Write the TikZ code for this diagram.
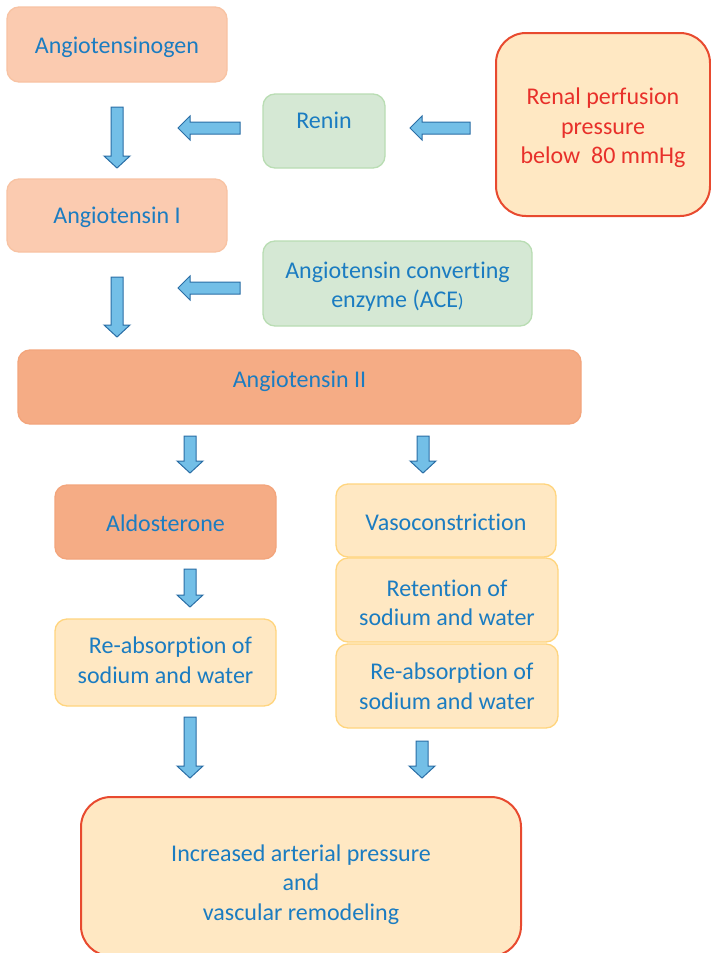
\documentclass[tikz,border=0pt]{standalone}
\usepackage{fontspec}
\setmainfont{Carlito}[Ligatures=NoCommon]
\definecolor{txtblue}{HTML}{1B7CC1}
\definecolor{txtred}{HTML}{E8302A}
\definecolor{peachLfill}{HTML}{FBCBB0}
\definecolor{peachLdraw}{HTML}{F8C3A3}
\definecolor{peachDfill}{HTML}{F5AC85}
\definecolor{peachDdraw}{HTML}{F3A57C}
\definecolor{greenfill}{HTML}{D5E8D4}
\definecolor{greendraw}{HTML}{B9DDB3}
\definecolor{yelfill}{HTML}{FFE8C3}
\definecolor{yeldraw}{HTML}{FFD57E}
\definecolor{redline}{HTML}{E84A2F}
\definecolor{arrfill}{HTML}{73BFE7}
\definecolor{arrdraw}{HTML}{2A6EA6}
\newcommand\darr[3]{% x, y tail, y tip
  \draw[barrow] ({#1-6},#2) -- ({#1+6},#2) -- ({#1+6},{#3-12}) -- ({#1+13},{#3-12})
    -- (#1,#3) -- ({#1-13},{#3-12}) -- ({#1-6},{#3-12}) -- cycle;}
\newcommand\larr[3]{% x tip, x tail, y
  \draw[barrow] (#2,{#3-6}) -- ({#1+12},{#3-6}) -- ({#1+12},{#3-12}) -- (#1,#3)
    -- ({#1+12},{#3+12}) -- ({#1+12},{#3+6}) -- (#2,{#3+6}) -- cycle;}
\begin{document}
\begin{tikzpicture}[x=1pt,y=-1pt,
  box/.style={rounded corners=12pt, line width=1.3pt, inner sep=0pt, outer sep=0pt},
  txt/.style={inner sep=0pt, align=center, text=txtblue, font=\fontsize{24}{29.5}\selectfont},
  peachL/.style={box, fill=peachLfill, draw=peachLdraw},
  peachD/.style={box, fill=peachDfill, draw=peachDdraw},
  greenbox/.style={box, fill=greenfill, draw=greendraw},
  yelbox/.style={box, fill=yelfill, draw=yeldraw},
  redbox/.style={box, fill=yelfill, draw=redline, line width=2pt, rounded corners=30pt},
  barrow/.style={fill=arrfill, draw=arrdraw, line width=1pt, line join=miter}]
\useasboundingbox (0,0) rectangle (711,953);
\clip (0,0) rectangle (711,953);
\fill[white] (0,0) rectangle (711,953);

% boxes
\node[peachL, minimum width=220, minimum height=75] (agn) at (117,44.5) {};
\node[greenbox, minimum width=122, minimum height=74] (renin) at (324,131) {};
\node[redbox, minimum width=214, minimum height=183] (renal) at (603,124.5) {};
\node[peachL, minimum width=220, minimum height=73] (ang1) at (117,215.5) {};
\node[greenbox, minimum width=269, minimum height=85] (ace) at (397.5,283.5) {};
\node[peachD, minimum width=563, minimum height=74] (ang2) at (299.5,387) {};
\node[peachD, minimum width=221, minimum height=74] (aldo) at (165.5,522) {};
\node[yelbox, minimum width=220, minimum height=73] (vaso) at (446,520.5) {};
\node[yelbox, minimum width=222, minimum height=84] (ret) at (447,600) {};
\node[yelbox, minimum width=222, minimum height=84] (reabsR) at (447,686) {};
\node[yelbox, minimum width=221, minimum height=87] (reabsL) at (165.5,662.5) {};
\node[redbox, minimum width=440, minimum height=159] (final) at (301,876.5) {};

% texts
\node[txt] (agn-t) at (117,47.5) {Angiotensinogen};
\node[txt] (renin-t) at (324,120) {Renin};
\node[txt, text=txtred] (renal-t) at (603,128) {Renal perfusion\\pressure\\below\ \ 80 mmHg};
\node[txt] (ang1-t) at (117,217.5) {Angiotensin I};
\node[txt] (ace-t) at (397.5,286.5) {Angiotensin converting\\enzyme (ACE{\fontsize{19}{20}\selectfont )}};
\node[txt] (ang2-t) at (299.5,381) {Angiotensin II};
\node[txt] (aldo-t) at (165.5,523) {Aldosterone};
\node[txt] (vaso-t) at (446,522.5) {Vasoconstriction};
\node[txt] (ret-t) at (447,603) {Retention of\\sodium and water};
\node[txt] (reabsR-t) at (447,686) {\hspace*{10pt}Re-absorption of\\sodium and water};
\node[txt] (reabsL-t) at (165.5,660) {\hspace*{10pt}Re-absorption of\\sodium and water};
\node[txt] (final-t) at (301,884.5) {Increased arterial pressure\\and\\vascular remodeling};

% block arrows
\darr{117}{107}{168}
\larr{178}{240}{128}
\larr{410}{470}{128}
\darr{117}{277}{337}
\larr{178}{240}{288}
\darr{190}{436}{473}
\darr{423}{436}{473}
\darr{190}{569}{607}
\darr{190}{717}{778}
\darr{422}{741}{778}
\end{tikzpicture}
\end{document}
